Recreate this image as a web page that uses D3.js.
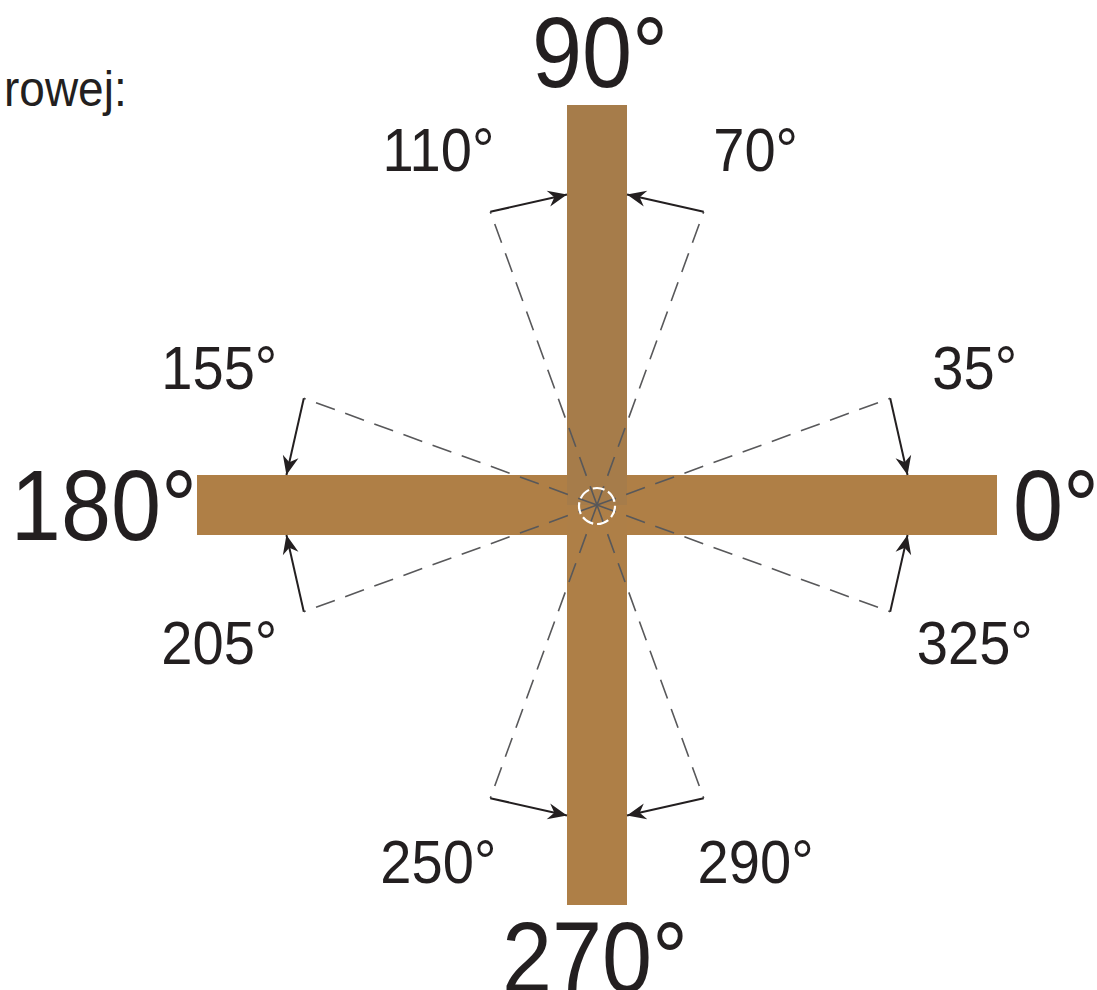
<!DOCTYPE html>
<html>
<head>
<meta charset="utf-8">
<script src="https://cdn.jsdelivr.net/npm/d3@7"></script>
<style>
    html, body { margin: 0; padding: 0; background: #fff; }
    svg { display: block; font-family: "Liberation Sans", Arial, sans-serif; }
</style>
</head>
<body>
<svg id="chart" width="1097" height="990"></svg>
<script>
/* main directions on the ends of the cross */
var AXIS_LABELS = [0, 90, 180, 270];

/* limit directions: label text and the angle the dashed line is drawn at */
var LIMIT_LABELS = [35, 70, 110, 155, 205, 250, 290, 325];
var LIMIT_ANGLES = [20, 70, 110, 160, 200, 250, 290, 340];

var CAPTION = "rowej:";

var ARM = 1;          // half length of a bar (data units)
var HALF_WIDTH = 0.075;
var REACH = 0.78;     // length of the dashed lines

var INK = "#231f20";

function init() {
    var svg = d3.select("#chart");

    var x = d3.scaleLinear().domain([-1, 1]).range([197, 997]);
    var y = d3.scaleLinear().domain([-1, 1]).range([905, 105]);
    var rad = d3.scaleLinear().domain([0, 180]).range([0, Math.PI]);

    function px(a, r) { return x(r * Math.cos(rad(a))); }
    function py(a, r) { return y(r * Math.sin(rad(a))); }

    var defs = svg.append("defs");
    defs.append("marker")
        .attr("id", "head")
        .attr("markerUnits", "userSpaceOnUse")
        .attr("viewBox", "-20 -9 21 18")
        .attr("refX", 0).attr("refY", 0)
        .attr("markerWidth", 21).attr("markerHeight", 18)
        .attr("orient", "auto")
        .append("path")
        .attr("d", "M0,0 L-19,-8 L-13,0 L-19,8 Z")
        .attr("fill", INK);

    /* the cross */
    svg.append("rect")
        .attr("x", x(-ARM)).attr("y", y(HALF_WIDTH))
        .attr("width", x(ARM) - x(-ARM)).attr("height", y(-HALF_WIDTH) - y(HALF_WIDTH))
        .attr("fill", "#af7f46");
    svg.append("rect")
        .attr("x", x(-HALF_WIDTH)).attr("y", y(0))
        .attr("width", x(HALF_WIDTH) - x(-HALF_WIDTH)).attr("height", y(-ARM) - y(0))
        .attr("fill", "#ae7f47");
    svg.append("rect")
        .attr("x", x(-HALF_WIDTH)).attr("y", y(ARM))
        .attr("width", x(HALF_WIDTH) - x(-HALF_WIDTH)).attr("height", y(0) - y(ARM))
        .attr("fill", "#a67c4a");

    var limits = LIMIT_LABELS.map(function (label, i) {
        return {label: label, angle: LIMIT_ANGLES[i]};
    });

    /* dashed limit lines */
    svg.append("g").selectAll("line")
        .data(limits).enter()
        .append("line")
        .attr("x1", x(0)).attr("y1", y(0))
        .attr("x2", function (d) { return px(d.angle, REACH); })
        .attr("y2", function (d) { return py(d.angle, REACH); })
        .attr("stroke", "#58585a")
        .attr("stroke-width", 1.6)
        .attr("stroke-dasharray", "20,11");

    /* centre circle */
    svg.append("circle")
        .attr("cx", x(0)).attr("cy", y(0) + 1)
        .attr("r", 18)
        .attr("fill", "none")
        .attr("stroke", "#fff")
        .attr("stroke-width", 2.2)
        .attr("stroke-dasharray", "12,4");

    /* arrows from end of dashed line to bar edge */
    svg.append("g").selectAll("line")
        .data(limits).enter()
        .append("line")
        .attr("x1", function (d) { return px(d.angle, REACH); })
        .attr("y1", function (d) { return py(d.angle, REACH); })
        .attr("x2", function (d) { return x(edgePoint(d.angle)[0]); })
        .attr("y2", function (d) { return y(edgePoint(d.angle)[1]); })
        .attr("stroke", INK)
        .attr("stroke-width", 2)
        .attr("marker-end", "url(#head)");

    /* small labels */
    svg.append("g").selectAll("text")
        .data(limits).enter()
        .append("text")
        .attr("transform", function (d) {
            var p = labelPolar(d.angle);
            var fs = 61;
            return "translate(" + px(p[0], p[1]) + "," + (py(p[0], p[1]) + 0.358 * fs) + ") scale(0.92,1)";
        })
        .attr("text-anchor", "middle")
        .attr("font-size", 61)
        .attr("fill", INK)
        .text(function (d) { return d.label + "°"; });

    /* big labels at the bar ends */
    svg.append("g").selectAll("text")
        .data(AXIS_LABELS).enter()
        .append("text")
        .attr("transform", function (d) {
            var tx, ty;
            if (d === 0)   { tx = x(ARM) + 16; ty = y(0) + 35; }
            if (d === 180) { tx = x(-ARM);     ty = y(0) + 35; }
            if (d === 90)  { tx = x(0) + 3;    ty = y(ARM) - 18; }
            if (d === 270) { tx = x(0) - 2;    ty = y(-ARM) + 87; }
            return "translate(" + tx + "," + ty + ") scale(0.9,1)";
        })
        .attr("text-anchor", function (d) {
            return d === 0 ? "start" : d === 180 ? "end" : "middle";
        })
        .attr("font-size", 100)
        .attr("fill", INK)
        .text(function (d) { return d + "°"; });

    /* caption fragment top left */
    svg.append("text")
        .attr("transform", "translate(4,106) scale(0.92,1)")
        .attr("font-size", 50)
        .attr("fill", INK)
        .text(CAPTION);
}

/* point on the bar edge next to a limit line, at the same distance from centre */
function edgePoint(a) {
    var r = a * Math.PI / 180;
    var c = Math.cos(r), s = Math.sin(r);
    var along = Math.sqrt(REACH * REACH - HALF_WIDTH * HALF_WIDTH);
    if (Math.abs(s) > Math.abs(c))
        return [Math.sign(c) * HALF_WIDTH, Math.sign(s) * along];
    return [Math.sign(c) * along, Math.sign(s) * HALF_WIDTH];
}

/* label angle and radius: labels near the vertical bar are pushed a little away from it */
function labelPolar(a) {
    var axis = Math.round(a / 90) * 90;
    if (axis % 180 === 0) return [a, 1.005];
    return [a + (a < axis ? -4 : 4), 0.975];
}

init();
</script>
</body>
</html>
